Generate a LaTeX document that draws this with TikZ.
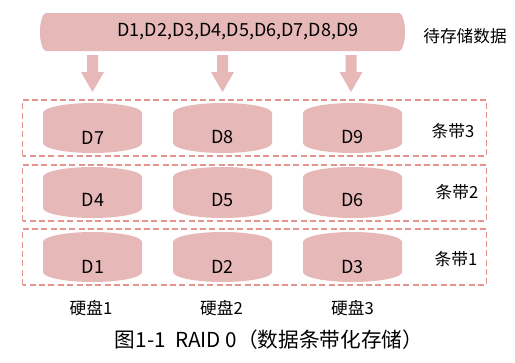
\documentclass[tikz,border=0pt]{standalone}
\usepackage{fontspec}
\setmainfont{Noto Sans CJK SC}
\definecolor{pan}{HTML}{E6B9B8}
\definecolor{xian}{HTML}{E3948F}
\tikzset{
  panfill/.style={fill=pan, draw=none},
  tiaodai/.style={draw=xian, line width=1pt, dash pattern=on 4.5pt off 2.5pt},
  wenzi/.style={inner sep=0pt, font=\fontsize{12.5pt}{14pt}\selectfont},
  dwenzi/.style={inner sep=0pt, font=\fontsize{13.5pt}{15pt}\selectfont}
}
\begin{document}
\begin{tikzpicture}[x=0.75pt, y=0.75pt]
				\useasboundingbox (0,0) rectangle (515,362);
				% === 待存储数据 ===
				\path[panfill] (46,349) -- (399,349) arc[start angle=90, end angle=-90, x radius=6, y radius=19]
					-- (46,311) arc[start angle=270, end angle=90, x radius=6, y radius=19] -- cycle;
				\node[dwenzi] (data) at (238,330) {D1,D2,D3,D4,D5,D6,D7,D8,D9};
				\node[wenzi] (datalabel) at (465,326) {待存储数据};
				
				% 箭头
				\foreach \x in {92.5, 222.5, 351}
					\fill[pan] (\x-5.5,307) -- (\x+5.5,307) -- (\x+5.5,290) -- (\x+11.5,290) -- (\x,270)
						-- (\x-11.5,290) -- (\x-5.5,290) -- cycle;
				
				% === 条带 ===
				\draw[tiaodai] (22.5,206) rectangle (486.5,262);
				\draw[tiaodai] (22.5,141) rectangle (486.5,197);
				\draw[tiaodai] (22.5,77) rectangle (486.5,133);
				\node[wenzi] (s3) at (453,231) {条带3};
				\node[wenzi] (s2) at (457,169.5) {条带2};
				\node[wenzi] (s1) at (456,103) {条带1};
				
				% 硬盘 (上沿, 下沿)
				\foreach \t/\b in {259/209, 195/144, 130/80}
					\foreach \x in {92.5, 222.5, 352.5}
						\path[panfill] (\x-49.5,\t-10) arc[start angle=180, end angle=0, x radius=49.5, y radius=10]
							-- (\x+49.5,\b+10) arc[start angle=0, end angle=-180, x radius=49.5, y radius=10] -- cycle;
				
				\node[dwenzi] (d7) at (93,224) {D7};
				\node[dwenzi] (d8) at (222.5,225) {D8};
				\node[dwenzi] (d9) at (352.5,225) {D9};
				\node[dwenzi] (d4) at (93,162) {D4};
				\node[dwenzi] (d5) at (222.5,162) {D5};
				\node[dwenzi] (d6) at (352.5,162) {D6};
				\node[dwenzi] (d1) at (93,95) {D1};
				\node[dwenzi] (d2) at (222.5,95) {D2};
				\node[dwenzi] (d3) at (352.5,95) {D3};
				
				\node[wenzi] (h1) at (91,54) {硬盘1};
				\node[wenzi] (h2) at (221.5,54) {硬盘2};
				\node[wenzi] (h3) at (352.5,54) {硬盘3};
				
				\node[inner sep=0pt, font=\fontsize{15.5pt}{17pt}\selectfont] (title) at (269,22) {图1-1\ \ RAID 0（数据条带化存储）};
\end{tikzpicture}
\end{document}
